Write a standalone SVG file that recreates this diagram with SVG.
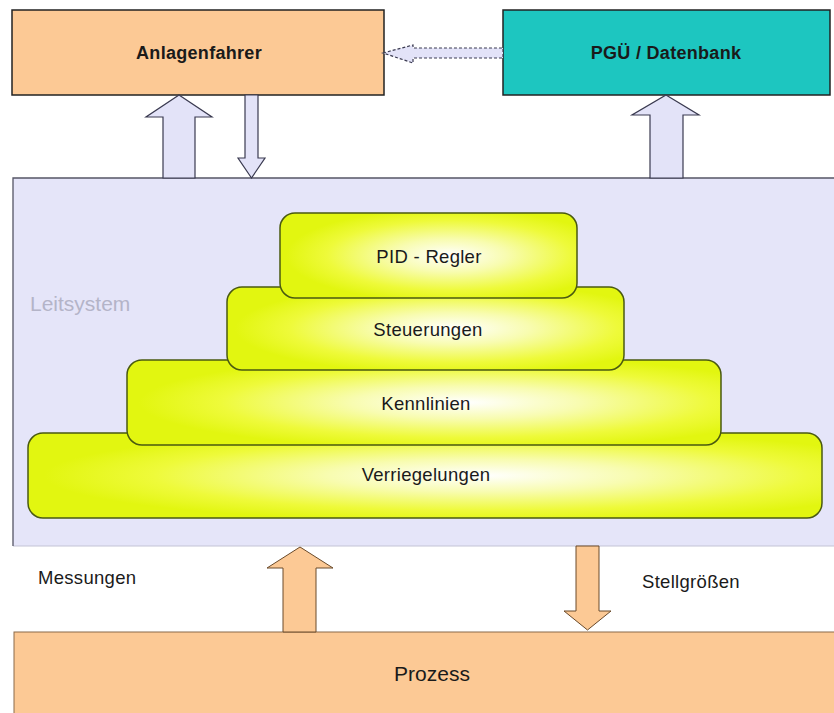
<svg xmlns="http://www.w3.org/2000/svg" width="834" height="713" viewBox="0 0 834 713">
<defs>
<radialGradient id="yg" cx="0.57" cy="0.5" r="0.55" fx="0.57" fy="0.5">
<stop offset="0" stop-color="#ffffff"/>
<stop offset="0.35" stop-color="#f8fcb0"/>
<stop offset="0.75" stop-color="#eefa3a"/>
<stop offset="1" stop-color="#e2f610"/>
</radialGradient>
<style>
.t{font-family:"Liberation Sans",Arial,sans-serif;fill:#1a1a1a}
.b{font-weight:bold;font-size:18px;letter-spacing:0.3px}
.r{font-size:18.5px;letter-spacing:0.3px}
.layer{fill:url(#yg);stroke:#4a5a10;stroke-width:1.5}
.lav{fill:#e3e3f8;stroke:#3a3a50;stroke-width:1.2}
.peach{fill:#fcc995;stroke:#6a4a2a;stroke-width:1}
</style>
</defs>
<rect width="834" height="713" fill="#ffffff"/>

<g id="leitsystem">
<rect x="13" y="178" width="830" height="368" fill="#e5e5f9"/>
<line x1="13" y1="546" x2="834" y2="546" stroke="#c4c4d6" stroke-width="1.2"/>
<polyline points="13,546 13,178 834,178" fill="none" stroke="#555566" stroke-width="1.3"/>
<text x="30" y="311" class="t" style="font-size:21px;fill:#b4b4c8">Leitsystem</text>
</g>

<g id="anlagenfahrer">
<rect x="12" y="10" width="372" height="85" fill="#fcc995" stroke="#222" stroke-width="1.5"/>
<text x="199" y="59" class="t b" text-anchor="middle">Anlagenfahrer</text>
</g>

<g id="pgue">
<rect x="503" y="10" width="327" height="85" fill="#1dc6c0" stroke="#222" stroke-width="1.5"/>
<text x="666" y="59" class="t b" text-anchor="middle">PGÜ / Datenbank</text>
</g>

<g id="prozess">
<rect x="14" y="632" width="830" height="90" fill="#fcc995" stroke="#8a6a4a" stroke-width="1"/>
<text x="432" y="681" class="t" text-anchor="middle" style="font-size:21px">Prozess</text>
</g>

<g id="verriegelungen">
<rect x="28" y="433" width="794" height="85" rx="15" class="layer"/>
<text x="426" y="481" class="t r" text-anchor="middle">Verriegelungen</text>
</g>
<g id="kennlinien">
<rect x="127" y="360" width="594" height="85" rx="15" class="layer"/>
<text x="426" y="410" class="t r" text-anchor="middle">Kennlinien</text>
</g>
<g id="steuerungen">
<rect x="227" y="287" width="397" height="83" rx="15" class="layer"/>
<text x="428" y="336" class="t r" text-anchor="middle">Steuerungen</text>
</g>
<g id="pid">
<rect x="280" y="213" width="297" height="85" rx="15" class="layer"/>
<text x="429" y="263" class="t r" text-anchor="middle">PID - Regler</text>
</g>

<g id="connectors">
<polygon points="383,53 413,45 413,48 503,48 503,58 413,58 413,63" class="lav" stroke-dasharray="3,2"/>
<polygon points="179,95 212,117 195,117 195,178 163,178 163,117 146,117" class="lav"/>
<polygon points="245,95 258,95 258,158 265,158 251.5,178 238,158 245,158" class="lav"/>
<polygon points="666,95 699,115 683,115 683,178 650,178 650,115 632,115" class="lav"/>
<polygon points="300,547 333,568 316,568 316,632 283,632 283,568 267,568" class="peach"/>
<polygon points="576,546 599,546 599,611 611,611 587.5,630 564,611 576,611" class="peach"/>
</g>

<text x="38" y="584" class="t r">Messungen</text>
<text x="642" y="588" class="t r">Stellgrößen</text>
</svg>
